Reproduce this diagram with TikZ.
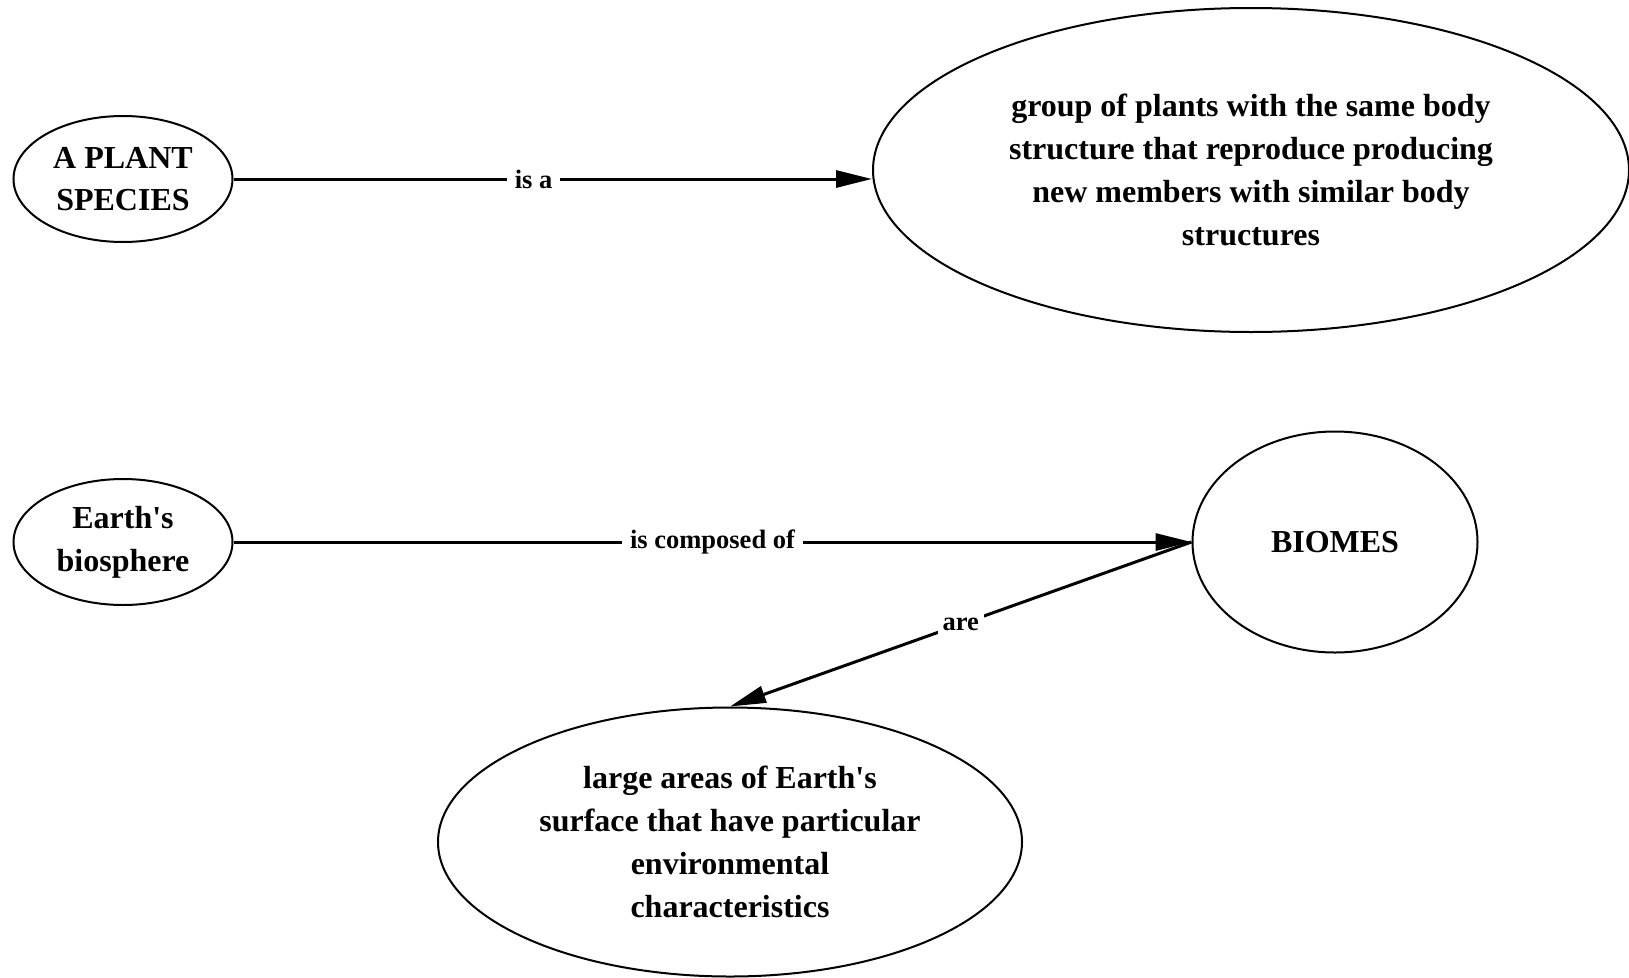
\documentclass[tikz,border=0pt]{standalone}
\usepackage{fontspec}
\setmainfont{Liberation Serif}
\usetikzlibrary{positioning,arrows.meta,shapes.geometric}

\begin{document}
\begin{tikzpicture}[x=1pt,y=-1pt,
  concept/.style={ellipse,draw,line width=2pt,inner sep=0pt,align=center,font=\fontsize{32}{42.8}\selectfont\bfseries},
  link/.style={line width=3pt,-{Triangle[length=36pt,width=17pt]}},
  linklabel/.style={fill=white,inner sep=8pt,font=\fontsize{26.5}{30}\selectfont\bfseries}]
\useasboundingbox (0,0) rectangle (1629,977);
% concepts
\node[concept,minimum width=219pt,minimum height=126pt] (plant) at (123,179) {A PLANT\\SPECIES};
\node[concept,minimum width=756pt,minimum height=324pt] (group) at (1251,170) {group of plants with the same body\\structure that reproduce producing\\new members with similar body\\structures};
\node[concept,minimum width=219pt,minimum height=126pt] (earth) at (123,542) {Earth\textquotesingle s\\biosphere};
\node[concept,minimum width=285pt,minimum height=221pt] (biomes) at (1335,542) {BIOMES};
\node[concept,minimum width=584pt,minimum height=269pt] (areas) at (730,842) {large areas of Earth\textquotesingle s\\surface that have particular\\environmental\\characteristics};
% links
\draw[link] (plant.east) -- node[linklabel,pos=0.47] (isa) {is a} (group.west |- plant.east);
\draw[link] (earth.east) -- node[linklabel] (composed) {is composed of} (biomes.west);
\draw[link] (biomes.west) -- node[linklabel,inner sep=5pt] (are) {are} (areas.north);
\end{tikzpicture}
\end{document}
